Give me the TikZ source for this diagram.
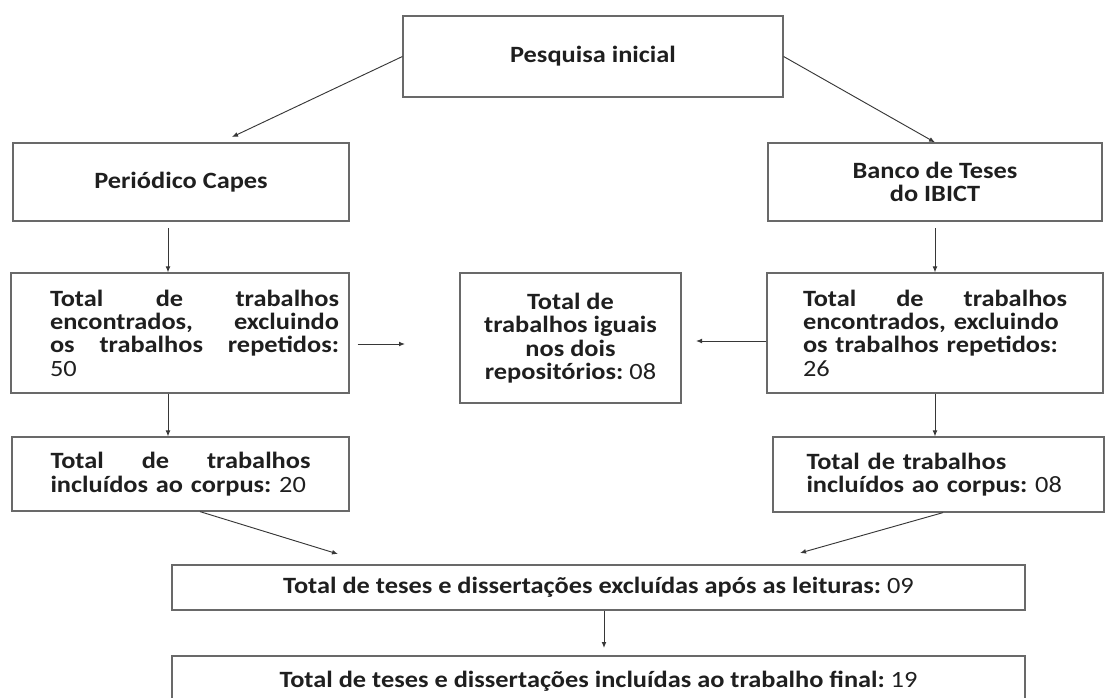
\documentclass[tikz,border=0pt]{standalone}
\usepackage{fontspec}
\setmainfont{Carlito}[FakeStretch=1.13]
\definecolor{boxgray}{RGB}{105, 105, 105}
\definecolor{linegray}{RGB}{55, 55, 55}
\usetikzlibrary{arrows.meta, calc}
\tikzset{
	stage/.style={rectangle, draw=boxgray, line width=0.9pt, align=center, inner sep=0pt, font=\bfseries\fontsize{17.5}{17.5}\selectfont, text=black!88, execute at begin node={\hyphenpenalty=10000\exhyphenpenalty=10000}},
	textstage/.style={stage, align=left},
	arrow/.style={-{Latex[length=4.5pt, width=3.6pt]}, line width=0.7pt, draw=linegray},
}

\begin{document}
\begin{tikzpicture}[x=0.75pt, y=-0.75pt]
		\useasboundingbox (0,0) rectangle (1110,697);
		\node[stage, minimum width=285pt, minimum height=60.75pt] (pesq) at (593,56.5) {Pesquisa inicial};
		\node[stage, minimum width=252pt, minimum height=58.5pt] (capes) at (181,182) {Periódico Capes};
		\node[stage, minimum width=250.5pt, minimum height=58.5pt] (ibict) at (935,182) {Banco de Teses\\do IBICT};
		\node[textstage, minimum width=253.5pt, minimum height=90pt, text width=238.5pt] (total1) at (180,333) {\leftskip=21.75pt Total\hfill de\hfill trabalhos\\ encontrados,\hfill excluindo\\ os\hfill trabalhos\hfill repetidos:\\ \hspace*{21.75pt}{\mdseries 50}};
		\node[stage, minimum width=165.75pt, minimum height=97.5pt] (iguais) at (570.5,338) {Total de\\ trabalhos iguais\\ nos dois\\ repositórios:~{\mdseries 08}};
		\node[textstage, minimum width=252pt, minimum height=90pt, text width=198pt] (total2) at (935,333) {Total\hfill de\hfill trabalhos\\ encontrados, excluindo\\ os trabalhos repetidos:\\ {\mdseries 26}};
		\node[textstage, minimum width=252.75pt, minimum height=55.5pt, text width=195pt] (incl1) at (180.5,474) {Total\hfill de\hfill trabalhos\\ incluídos ao corpus:~{\mdseries 20}};
		\node[textstage, minimum width=248.25pt, minimum height=56.25pt, text width=198pt] (incl2) at (938.5,474.5) {Total de trabalhos\\ incluídos ao corpus:~{\mdseries 08}};
		\node[stage, minimum width=639.75pt, minimum height=33.75pt] (excl) at (598.5,587.5) {Total de teses e dissertações excluídas após as leituras:~{\mdseries 09}};
		\node[stage, minimum width=639.75pt, minimum height=37.5pt] (final) at (598.5,681) {Total de teses e dissertações incluídas ao trabalho final:~{\mdseries 19}};
		% free ends of the arrows
		\coordinate (capesend) at (232,137);
		\coordinate (iguaisleft) at (405,344);
		\coordinate (iguaisright) at (696,341);
		\coordinate (exclleft) at (338,554);
		\coordinate (exclright) at (800,553);
		\coordinate (finaltop) at (604,648);
		\draw[arrow] (pesq.west) -- (capesend);
		\draw[arrow] (pesq.east) -- (ibict.north);
		\draw[arrow] ([xshift=-9.75pt, yshift=-5pt]capes.south) -- ([xshift=-9pt]total1.north);
		\draw[arrow] ([yshift=-5pt]ibict.south) -- (total2.north);
		\draw[arrow] ([xshift=6pt]total1.east |- iguaisleft) -- (iguaisleft);
		\draw[arrow] (total2.west |- iguaisright) -- (iguaisright);
		\draw[arrow] ([xshift=-9pt]total1.south) -- ([xshift=-9pt]total1.south |- incl1.north);
		\draw[arrow] (total2.south) -- (total2.south |- incl2.north);
		\draw[arrow] ([xshift=14.6pt]incl1.south) -- (exclleft);
		\draw[arrow] ([xshift=3.4pt]incl2.south) -- (exclright);
		\draw[arrow] (excl.south -| finaltop) -- (finaltop);
	\end{tikzpicture}
\end{document}
